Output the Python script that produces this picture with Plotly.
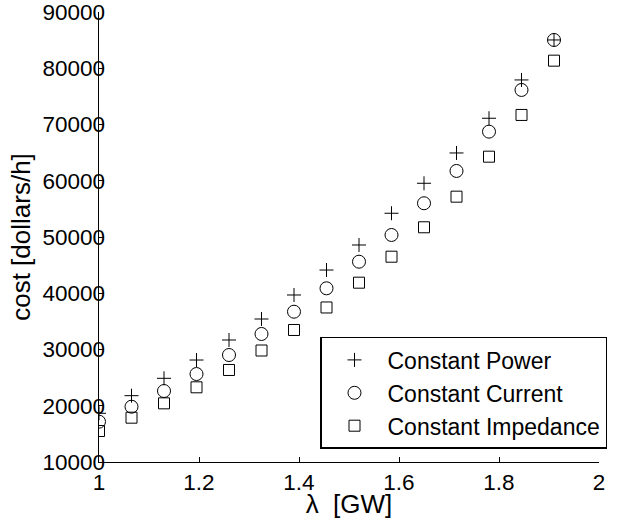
import plotly.graph_objects as go

lam = [1.0, 1.065, 1.13, 1.195, 1.26, 1.325, 1.39, 1.455, 1.52, 1.585, 1.65, 1.715, 1.78, 1.845, 1.91]
const_power = [18660, 21790, 24880, 28130, 31690, 35420, 39690, 44130, 48580, 54220, 59550, 64940, 71110, 77920, 85030]
const_current = [17170, 19830, 22620, 25640, 29020, 32760, 36720, 40880, 45610, 50360, 56000, 61740, 68730, 76140, 85030]
const_impedance = [15510, 17880, 20430, 23280, 26360, 29820, 33470, 37470, 41880, 46500, 51730, 57170, 64280, 71700, 81350]

x_ticks = [1, 1.2, 1.4, 1.6, 1.8, 2]
x_ticktext = ["1", "1.2", "1.4", "1.6", "1.8", "2"]
y_ticks = [10000, 20000, 30000, 40000, 50000, 60000, 70000, 80000, 90000]

FONT = "Liberation Sans, Arial, sans-serif"
W, H = 642, 519
ML, MR, MT, MB = 60, 43, 12, 57
inner_w = W - ML - MR
x_dom0 = (99 - ML) / inner_w
ylab_pos = (105 - ML) / inner_w

fig = go.Figure()
fig.add_trace(go.Scatter(x=lam, y=const_power, mode="markers", name="Constant Power",
                         marker=dict(symbol="cross-thin-open", size=10, color="black",
                                     line=dict(color="black", width=1))))
fig.add_trace(go.Scatter(x=lam, y=const_current, mode="markers", name="Constant Current",
                         marker=dict(symbol="circle-open", size=13, color="black",
                                     line=dict(color="black", width=1))))
fig.add_trace(go.Scatter(x=lam, y=const_impedance, mode="markers", name="Constant Impedance",
                         marker=dict(symbol="square-open", size=11, color="black",
                                     line=dict(color="black", width=1))))
# invisible trace so the label-only overlay axis is drawn
fig.add_trace(go.Scatter(x=[None], y=[None], yaxis="y2", showlegend=False, hoverinfo="skip",
                         mode="markers"))

fig.update_layout(
    width=W, height=H,
    margin=dict(l=ML, r=MR, t=MT, b=MB, autoexpand=False),
    paper_bgcolor="white", plot_bgcolor="white",
    font=dict(family=FONT, size=22, color="black"),
    legend=dict(x=(607 - ML) / inner_w, y=0.029, xanchor="right", yanchor="bottom",
                bgcolor="white", bordercolor="black", borderwidth=1.5,
                font=dict(size=23), itemwidth=56, tracegroupgap=0),
    xaxis=dict(domain=[x_dom0, 1], range=[1, 2], tickvals=x_ticks, ticktext=x_ticktext,
               showline=True, linecolor="black", linewidth=1, showgrid=False, zeroline=False,
               ticks="inside", ticklen=5, tickcolor="black", tickfont=dict(size=22.5),
               ticklabeloverflow="allow", automargin=False,
               title=dict(text="λ  [GW]", standoff=7)),
    yaxis=dict(range=[10000, 90000], tickvals=y_ticks, showticklabels=False,
               showline=True, linecolor="black", linewidth=1, showgrid=False, zeroline=False,
               ticks="inside", ticklen=5, tickcolor="black", automargin=False),
    yaxis2=dict(overlaying="y", anchor="free", position=ylab_pos, side="left",
                range=[10000, 90000], tickvals=y_ticks, tickformat="d",
                showline=False, showgrid=False, zeroline=False, ticks="",
                tickfont=dict(size=22.5), ticklabeloverflow="allow", automargin=False,
                title=dict(text="cost [dollars/h]", standoff=3)),
    showlegend=True,
)

fig.write_html("out.html")
